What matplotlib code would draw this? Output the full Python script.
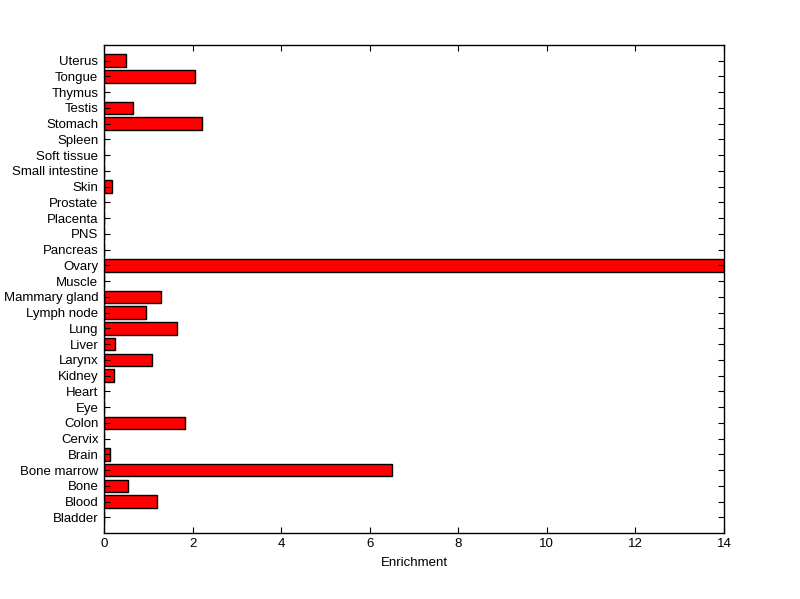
import matplotlib.pyplot as plt

plt.rcParams['font.family'] = ['Liberation Sans', 'DejaVu Sans']

# Tissues, bottom to top
tissues = ["Bladder", "Blood", "Bone", "Bone marrow", "Brain", "Cervix", "Colon",
           "Eye", "Heart", "Kidney", "Larynx", "Liver", "Lung", "Lymph node",
           "Mammary gland", "Muscle", "Ovary", "Pancreas", "PNS", "Placenta",
           "Prostate", "Skin", "Small intestine", "Soft tissue", "Spleen",
           "Stomach", "Testis", "Thymus", "Tongue", "Uterus"]

enrichment = [0, 1.19, 0.54, 6.51, 0.13, 0, 1.83,
              0, 0, 0.22, 1.09, 0.24, 1.65, 0.94,
              1.28, 0, 14.0, 0, 0, 0,
              0, 0.17, 0, 0, 0,
              2.21, 0.65, 0, 2.05, 0.49]

xticks = [0, 2, 4, 6, 8, 10, 12, 14]

fig = plt.figure(figsize=(8, 5.99), dpi=100)
ax = fig.add_axes([0.13, 0.11, 0.775, 0.815])

pos = list(range(1, len(tissues) + 1))
ax.barh(pos, enrichment, height=0.8, color="red", edgecolor="black", linewidth=1)

ax.set_xlim(0, 14)
ax.set_ylim(0, len(tissues) + 1)
ax.set_xticks(xticks)
ax.set_yticks(pos)
ax.set_yticklabels(tissues)
ax.set_xlabel("Enrichment", fontsize=9.5, labelpad=5)

ax.tick_params(direction="in", top=True, right=True, length=4, width=0.8,
               labelsize=9.5)
ax.tick_params(axis="y", pad=4)
for s in ax.spines.values():
    s.set_linewidth(1)

fig.savefig("out.png", dpi=100)
